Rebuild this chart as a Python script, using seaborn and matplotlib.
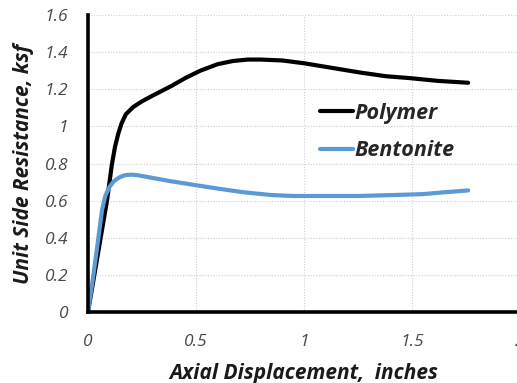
import matplotlib
matplotlib.use("Agg")
import matplotlib.pyplot as plt
import seaborn as sns
import pandas as pd

# Data
polymer_x = [0, 0.044, 0.088, 0.11, 0.125, 0.14, 0.155, 0.175, 0.21, 0.25, 0.29, 0.34, 0.39, 0.45, 0.52, 0.60, 0.67, 0.74, 0.80, 0.90, 1.00, 1.13, 1.26, 1.38, 1.49, 1.62, 1.76]
polymer_y = [0, 0.30, 0.60, 0.79, 0.89, 0.96, 1.015, 1.065, 1.105, 1.135, 1.16, 1.19, 1.22, 1.26, 1.30, 1.335, 1.352, 1.36, 1.36, 1.355, 1.34, 1.315, 1.29, 1.27, 1.26, 1.245, 1.235]

bent_x = [0, 0.025, 0.047, 0.065, 0.08, 0.10, 0.12, 0.145, 0.17, 0.20, 0.23, 0.30, 0.38, 0.49, 0.60, 0.72, 0.85, 0.95, 1.10, 1.25, 1.41, 1.55, 1.65, 1.76]
bent_y = [0, 0.20, 0.39, 0.55, 0.625, 0.675, 0.705, 0.725, 0.737, 0.74, 0.737, 0.722, 0.705, 0.685, 0.665, 0.645, 0.63, 0.625, 0.625, 0.625, 0.63, 0.635, 0.645, 0.655]

x_ticks = [0, 0.5, 1, 1.5, 2]
x_tick_labels = ["0", "0.5", "1", "1.5", "2"]
y_ticks = [0, 0.2, 0.4, 0.6, 0.8, 1.0, 1.2, 1.4, 1.6]
y_tick_labels = ["0", "0.2", "0.4", "0.6", "0.8", "1", "1.2", "1.4", "1.6"]

df = pd.concat([
    pd.DataFrame({"x": polymer_x, "y": polymer_y, "series": "Polymer"}),
    pd.DataFrame({"x": bent_x, "y": bent_y, "series": "Bentonite"}),
])

sns.set_theme(style="white")
plt.rcParams['font.family'] = ['Open Sans', 'DejaVu Sans']

fig = plt.figure(figsize=(5.17, 3.83), dpi=100)
ax = fig.add_axes([88/517, 1-312/383, 432/517, 297/383])

sns.lineplot(data=df, x="x", y="y", hue="series", sort=False,
             palette={"Polymer": "#000000", "Bentonite": "#5B9BD5"},
             linewidth=3.0, ax=ax, estimator=None)

ax.set_xlim(0, 2)
ax.set_ylim(0, 1.6)
ax.set_xticks(x_ticks)
ax.set_xticklabels(x_tick_labels)
ax.set_yticks(y_ticks)
ax.set_yticklabels(y_tick_labels)
ax.tick_params(axis='both', length=0, labelsize=12.5, colors='#4a4a4a')
ax.tick_params(axis='x', pad=16)
ax.tick_params(axis='y', pad=14)
for lab in ax.get_xticklabels() + ax.get_yticklabels():
    lab.set_fontstyle('italic')

ax.grid(True, color='#d0d0d0', linestyle=(0, (1, 1.5)), linewidth=0.8)
for s in ['top', 'right']:
    ax.spines[s].set_visible(False)
for s in ['left', 'bottom']:
    ax.spines[s].set_color('black')
    ax.spines[s].set_linewidth(2.6)

ax.set_xlabel("Axial Displacement,  inches", fontsize=15, fontweight='bold',
              fontstyle='italic', color='#1a1a1a', labelpad=9)
ax.set_ylabel("Unit Side Resistance, ksf", fontsize=15, fontweight='bold',
              fontstyle='italic', color='#1a1a1a', labelpad=8)

leg = ax.legend(loc='center left', bbox_to_anchor=(301/517, 1-132/383),
                bbox_transform=fig.transFigure, frameon=False,
                handlelength=1.5, handletextpad=0.1, labelspacing=0.75,
                prop={'size': 15.5, 'weight': 'bold', 'style': 'italic'})
for line in leg.get_lines():
    line.set_linewidth(3.0)

fig.savefig("out.png", dpi=100)
